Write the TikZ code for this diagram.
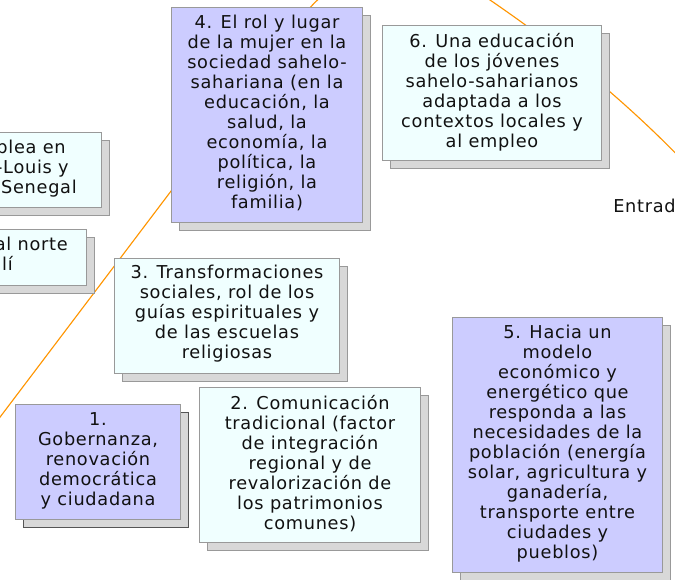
\documentclass[tikz,border=0pt]{standalone}
\usepackage{fontspec}
\setmainfont{DejaVu Sans}[LetterSpace=4.0]
\usetikzlibrary{shadows}
\definecolor{lav}{HTML}{CCCCFF}
\definecolor{paleCyan}{HTML}{F0FFFF}
\definecolor{bordergray}{HTML}{999999}
\definecolor{shadowgray}{HTML}{D8D8D8}
\definecolor{darkshadowline}{HTML}{555555}
\definecolor{curveorange}{HTML}{FF9500}
\definecolor{textblack}{HTML}{111111}
\tikzset{
  boxbase/.style={draw=bordergray, line width=0.75pt, anchor=north west, inner sep=0pt,
    general shadow={fill=shadowgray, draw=bordergray, line width=0.75pt, shadow xshift=6pt, shadow yshift=-6pt}},
  lavbox/.style={boxbase, fill=lav},
  cyanbox/.style={boxbase, fill=paleCyan},
  txt/.style={anchor=north, align=center, inner sep=0pt, text=textblack,
    font=\fontsize{13.3pt}{15pt}\selectfont},
  rtxt/.style={txt, anchor=north east, align=right},
  curve/.style={draw=curveorange, line width=0.85pt},
}
\begin{document}
\begin{tikzpicture}[x=0.75pt, y=-0.75pt]
\useasboundingbox (0,0) rectangle (675,580);
\clip (0,0) rectangle (675,580);
% orange arc behind the boxes
\draw[curve] (-15,437) -- (305,14) .. controls (345,-40) and (430,-45) .. (490,0)
  .. controls (560,48) and (625,100) .. (690,168);
% partial boxes on the left
\node[cyanbox, minimum width=150.75pt, minimum height=56.25pt] (bA) at (-100,132) {};
\node[rtxt] (tA) at (77,140) {blea en\kern8.25pt\\-Louis y\kern6pt\\Senegal};
\node[cyanbox, minimum width=138pt, minimum height=42pt] (bB) at (-98,229) {};
\node[rtxt] (tB) at (68,237) {al norte\\lí\kern41.25pt};
% box 4
\node[lavbox, minimum width=143.25pt, minimum height=161.25pt] (b4) at (171,7) {};
\node[txt] (t4) at ([yshift=-6pt]b4.north) {4. El rol y lugar\\de la mujer en la\\sociedad sahelo-\\sahariana (en la\\educación, la\\salud, la\\economía, la\\política, la\\religión, la\\familia)};
% box 6
\node[cyanbox, minimum width=164.25pt, minimum height=101.25pt] (b6) at (382,25) {};
\node[txt] (t6) at ([yshift=-6pt]b6.north) {6. Una educación\\de los jóvenes\\sahelo-saharianos\\adaptada a los\\contextos locales y\\al empleo};
% box 3
\node[cyanbox, minimum width=168.75pt, minimum height=86.25pt] (b3) at (114,258) {};
\node[txt] (t3) at ([yshift=-5pt]b3.north) {3. Transformaciones\\sociales, rol de los\\guías espirituales y\\de las escuelas\\religiosas};
% box 1
\node[boxbase, fill=lav, general shadow={fill=shadowgray, draw=darkshadowline, line width=0.75pt, shadow xshift=6pt, shadow yshift=-6pt}, minimum width=123.75pt, minimum height=86.25pt] (b1) at (15,404) {};
\node[txt] (t1) at ([yshift=-6.5pt]b1.north) {1.\\Gobernanza,\\renovación\\democrática\\y ciudadana};
% box 2
\node[cyanbox, minimum width=165.75pt, minimum height=116.25pt] (b2) at (199,387) {};
\node[txt] (t2) at ([yshift=-6pt]b2.north) {2. Comunicación\\tradicional (factor\\de integración\\regional y de\\revalorización de\\los patrimonios\\comunes)};
% box 5
\node[lavbox, minimum width=157.5pt, minimum height=191.25pt] (b5) at (452,317) {};
\node[txt] (t5) at ([yshift=-6pt]b5.north) {5. Hacia un\\modelo\\económico y\\energético que\\responda a las\\necesidades de la\\población (energía\\solar, agricultura y\\ganadería,\\transporte entre\\ciudades y\\pueblos)};
% cut-off label on the right
\node[txt, anchor=base west] (entr) at (613,213) {Entrad};
\end{tikzpicture}
\end{document}
